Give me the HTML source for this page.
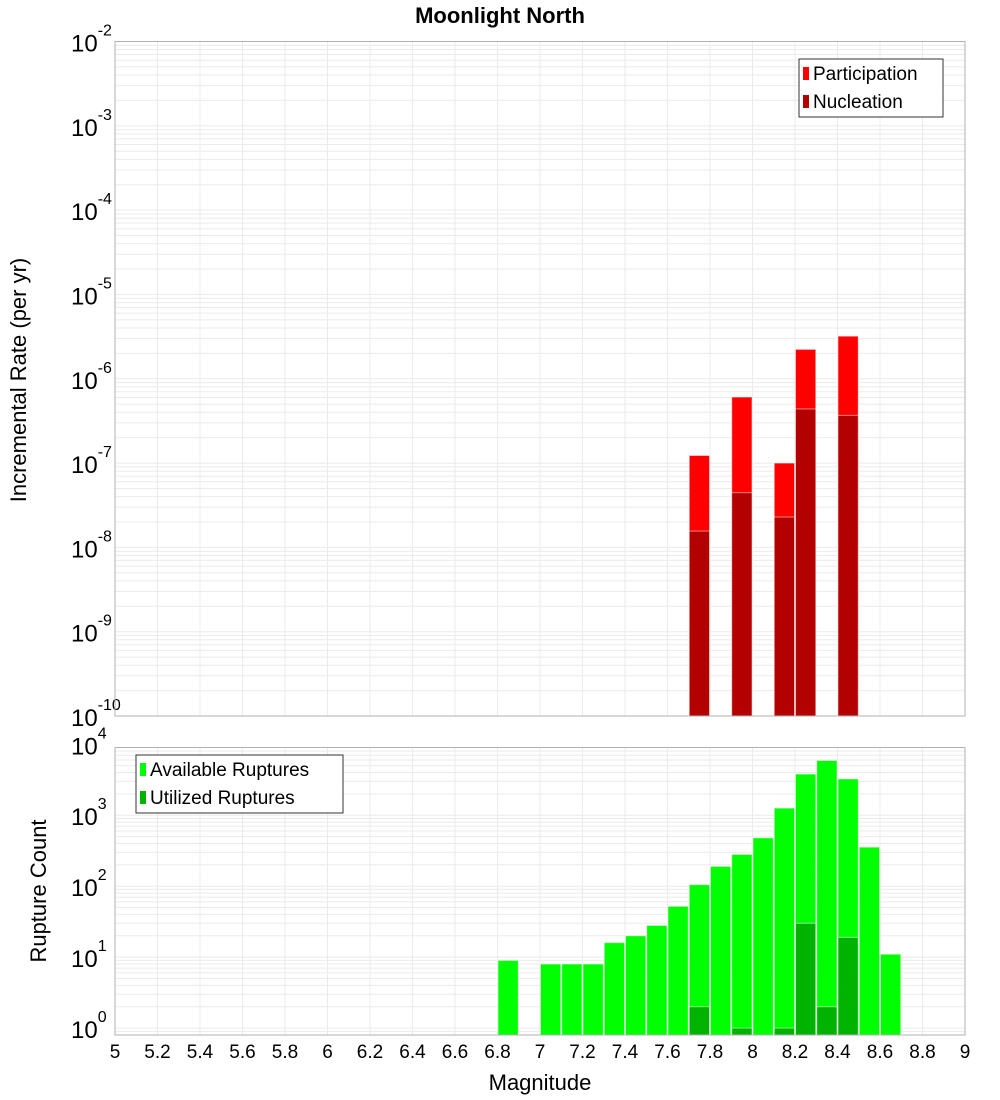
<!DOCTYPE html>
<html><head><meta charset="utf-8"><style>
html,body{margin:0;padding:0;background:#fff;}
svg{display:block;font-family:"Liberation Sans","DejaVu Sans",sans-serif;}
</style></head><body>
<svg id="chart" width="1000" height="1100" viewBox="0 0 1000 1100" xmlns="http://www.w3.org/2000/svg">
<text x="500" y="23" text-anchor="middle" font-size="22" font-weight="bold" fill="#000">Moonlight North</text>
<g id="top"></g>
<g id="bot"></g>
<text transform="translate(26,380) rotate(-90)" text-anchor="middle" font-size="22" fill="#000">Incremental Rate (per yr)</text>
<text transform="translate(46,891) rotate(-90)" text-anchor="middle" font-size="22" fill="#000">Rupture Count</text>
<text x="540" y="1090" text-anchor="middle" font-size="22" fill="#000">Magnitude</text>
</svg>
<script>
const NS="http://www.w3.org/2000/svg";
// Top chart data
const rateMags=[7.75,7.95,8.15,8.25,8.45];
const participation=[1.23e-7,6.07e-7,1.0e-7,2.23e-6,3.2e-6];
const nucleation=[1.56e-8,4.45e-8,2.29e-8,4.38e-7,3.68e-7];
// Bottom chart data
const countMags=[6.85,7.05,7.15,7.25,7.35,7.45,7.55,7.65,7.75,7.85,7.95,8.05,8.15,8.25,8.35,8.45,8.55,8.65];
const available=[9,8,8,8,16,20,28,52,105,190,280,480,1260,3800,5900,3250,355,11];
const utilMags=[7.75,7.95,8.15,8.25,8.35,8.45];
const utilized=[2,1,1,30,2,19];
const xTicks=["5","5.2","5.4","5.6","5.8","6","6.2","6.4","6.6","6.8","7","7.2","7.4","7.6","7.8","8","8.2","8.4","8.6","8.8","9"];

const X0=115,X1=965;
const xs=m=>X0+(m-5)/4*(X1-X0);
function mk(tag,attrs,parent){const e=document.createElementNS(NS,tag);for(const k in attrs)e.setAttribute(k,attrs[k]);parent.appendChild(e);return e;}

function panel(g,top,bottom,lmin,lmax,decades){
  const ys=v=>bottom-(Math.log10(v)-lmin)/(lmax-lmin)*(bottom-top);
  mk('rect',{x:X0,y:top,width:X1-X0,height:bottom-top,fill:'#fff'},g);
  for(let d=Math.floor(lmin);d<=Math.ceil(lmax);d++){
    for(let k=1;k<=9;k++){const v=k*Math.pow(10,d);const L=Math.log10(v);if(L<lmin||L>lmax)continue;
      const y=ys(v);const l=mk('line',{x1:X0,x2:X1,y1:y,y2:y,stroke:'#ebebeb','stroke-width':1},g);
      
      }
  }
  xTicks.forEach(t=>{const x=xs(parseFloat(t));const l=mk('line',{x1:x,x2:x,y1:top,y2:bottom,stroke:'#ebebeb','stroke-width':1},g);
    
    });
  decades.forEach(d=>{const y=ys(Math.pow(10,d));
    const t=mk('text',{x:X0-10,y:y+10,'text-anchor':'end','font-size':24,fill:'#000'},g);
    
    
    const a=mk('tspan',{},t);a.textContent='10';
    const b=mk('tspan',{dy:-16,'font-size':16},t);b.textContent=String(d);
    t.setAttribute('text-anchor','start');t.setAttribute('x',X0-44);
  });
  return ys;
}
function bars(g,mags,vals,ys,bottom,fill,name){
  mags.forEach((m,i)=>{const x=xs(m-0.05),w=xs(m+0.05)-x;const y=ys(vals[i]);
    const r=mk('rect',{x:x+0.5,y:y,width:w-1,height:bottom-y,fill:fill,stroke:'rgba(255,255,255,0.5)','stroke-width':1},g);
    
    });
}
function legend(g,x,y,w,items){
  const box=mk('rect',{x:x,y:y,width:w,height:58,fill:'#fff',stroke:'#333','stroke-width':1},g);
  
  
  items.forEach((it,i)=>{const yy=y+14+i*28;
    const s=mk('rect',{x:x+4,y:yy-6,width:6,height:13,fill:it[1]},g);
    
    
    const t=mk('text',{x:x+14,y:yy+7,'font-size':19,fill:'#000'},g);t.textContent=it[0];
    
    });
}
// top panel
const gt=document.getElementById('top');
const T0=41.5,T1=716;
const ysT=panel(gt,T0,T1,-10,-2,[-2,-3,-4,-5,-6,-7,-8,-9,-10]);
bars(gt,rateMags,participation,ysT,T1,'#ff0000','participation-bar');
bars(gt,rateMags,nucleation,ysT,T1,'#b30000','nucleation-bar');
mk('rect',{x:X0,y:T0,width:X1-X0,height:T1-T0,fill:'none',stroke:'#b0b0b0','stroke-width':1},gt);
legend(gt,799,59,144,[['Participation','#ff0000'],['Nucleation','#b30000']]);
// bottom panel
const gb=document.getElementById('bot');
const B0=747.5,B1=1035;
const ysB=panel(gb,B0,B1,Math.log10(0.8),Math.log10(9000),[0,1,2,3,4]);
bars(gb,countMags,available,ysB,B1,'#00ff00','available-bar');
bars(gb,utilMags,utilized,ysB,B1,'#00b300','utilized-bar');
mk('rect',{x:X0,y:B0,width:X1-X0,height:B1-B0,fill:'none',stroke:'#b0b0b0','stroke-width':1},gb);
legend(gb,136,755,207,[['Available Ruptures','#00ff00'],['Utilized Ruptures','#00b300']]);
xTicks.forEach(t=>{const e=mk('text',{x:xs(parseFloat(t)),y:1058,'text-anchor':'middle','font-size':19,fill:'#000'},gb);e.textContent=t;
  
  });
</script>
</body></html>
